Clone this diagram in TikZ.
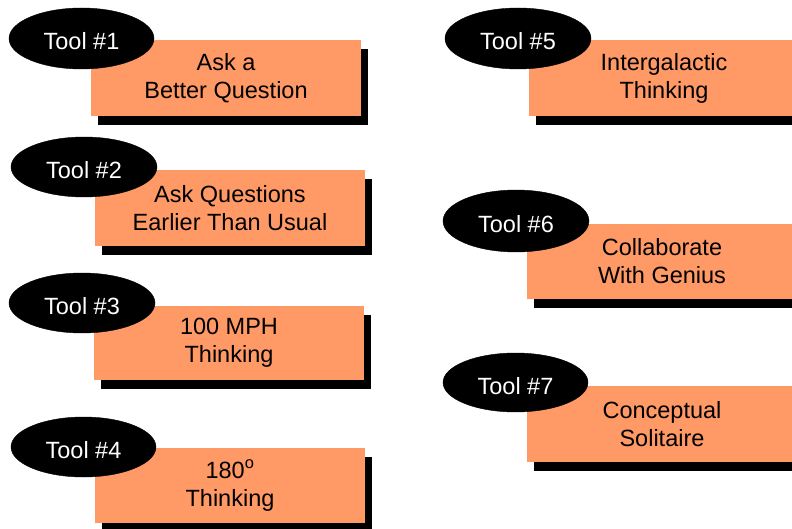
\documentclass[tikz,border=0pt]{standalone}
\usepackage{fontspec}
\setmainfont{Liberation Sans}
\usetikzlibrary{shapes.geometric,shadows}
\definecolor{boxorange}{HTML}{FF9966}
\tikzset{
  toolbox/.style={rectangle, fill=boxorange, minimum width=270pt, inner sep=0pt,
    align=center, font=\fontsize{23.5}{28}\selectfont,
    drop shadow={shadow xshift=7pt, shadow yshift=-9pt, fill=black, opacity=1}},
  toollabel/.style={ellipse, fill=black, draw=black, inner sep=0pt, text=white,
    font=\fontsize{23.5}{28}\selectfont, text height=23pt, text depth=0pt}
}
\begin{document}
\begin{tikzpicture}[x=1pt,y=-1pt]
\clip (0,0) rectangle (792,529);
\fill[white] (0,0) rectangle (792,529);
% boxes
\node[toolbox, minimum height=76pt] (b1) at (226,78) {Ask a\\Better Question};
\node[toolbox, minimum height=76pt] (b2) at (230,208) {Ask Questions\\Earlier Than Usual};
\node[toolbox, minimum height=74pt] (b3) at (229,342.5) {100 MPH\\Thinking};
\node[toolbox, minimum height=75pt] (b4) at (230,485.5) {180\textsuperscript{o}\\Thinking};
\node[toolbox, minimum height=76pt] (b5) at (664,78) {Intergalactic\\Thinking};
\node[toolbox, minimum height=75pt] (b6) at (662,261.5) {Collaborate\\With Genius};
\node[toolbox, minimum height=76pt] (b7) at (662,424) {Conceptual\\Solitaire};
% labels
\node[toollabel, minimum width=145pt, minimum height=61pt] (t1) at (81.5,38.5) {Tool \#1};
\node[toollabel, minimum width=146pt, minimum height=60pt] (t2) at (84,167) {Tool \#2};
\node[toollabel, minimum width=146pt, minimum height=60pt] (t3) at (82,303) {Tool \#3};
\node[toollabel, minimum width=145pt, minimum height=60pt] (t4) at (83.5,447) {Tool \#4};
\node[toollabel, minimum width=146pt, minimum height=61pt] (t5) at (518,38.5) {Tool \#5};
\node[toollabel, minimum width=146pt, minimum height=62pt] (t6) at (516,221) {Tool \#6};
\node[toollabel, minimum width=145pt, minimum height=59pt] (t7) at (515.5,382.5) {Tool \#7};
\end{tikzpicture}
\end{document}
